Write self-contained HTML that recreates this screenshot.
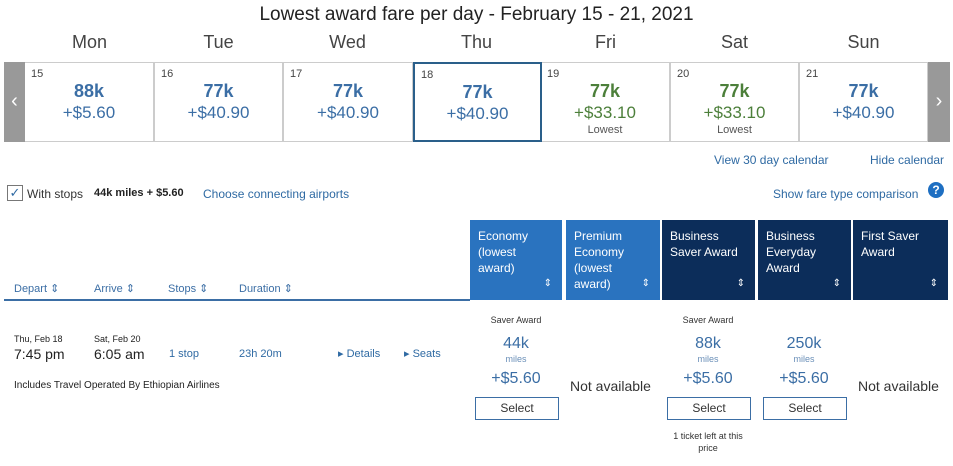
<!DOCTYPE html>
<html><head><meta charset="utf-8"><style>
body{margin:0;width:953px;height:466px;background:#fff;font-family:"Liberation Sans",sans-serif;position:relative;overflow:hidden;color:#333}
.a{position:absolute;white-space:nowrap}
.c{text-align:center}
.day{top:32px;font-size:18px;color:#444;width:129px;text-align:center}
.cell{position:absolute;top:62px;height:80px;border:1px solid #ccc;border-left:none;box-sizing:border-box;background:#fff}
.cell .n{position:absolute;left:6px;top:5px;font-size:11px;color:#444}
.cell .m{position:absolute;left:0;right:0;top:18px;text-align:center;font-size:18px;font-weight:bold;color:#3b6ea5}
.cell .p{position:absolute;left:0;right:0;top:40px;text-align:center;font-size:17px;color:#3b6ea5}
.cell.g .m,.cell.g .p{color:#4c7f3a}
.cell .l{position:absolute;left:0;right:0;top:61px;text-align:center;font-size:11px;color:#555}
.hd{position:absolute;top:220px;height:80px;color:#fff;font-size:12px;line-height:16px;padding:8px 8px;box-sizing:border-box;white-space:normal}
.hd .s{position:absolute;right:10px;bottom:8px;font-size:10px}
.lk{color:#2f6aa3}
.col{font-size:11px;color:#3b6ea5;top:282px}
.btn{position:absolute;top:397px;width:84px;height:23px;border:1px solid #3b6ea5;box-sizing:border-box;font-size:12px;text-align:center;line-height:21px;color:#333}
.mi{font-size:16px;color:#3b6ea5;width:94px;text-align:center}
.ml{font-size:9px;color:#6a8fb8;width:94px;text-align:center}
.na{font-size:14px;color:#333}
</style></head><body>
<div class="a" style="left:0;width:953px;text-align:center;top:4px;font-size:19px;color:#222">Lowest award fare per day - February 15 - 21, 2021</div>
<div class="a day" style="left:25px">Mon</div>
<div class="a day" style="left:154px">Tue</div>
<div class="a day" style="left:283px">Wed</div>
<div class="a day" style="left:412px">Thu</div>
<div class="a day" style="left:541px">Fri</div>
<div class="a day" style="left:670px">Sat</div>
<div class="a day" style="left:799px">Sun</div>
<div class="a" style="left:4px;top:62px;width:21px;height:80px;background:#999;color:#fff;font-size:20px;line-height:78px;text-align:center">‹</div>
<div class="a" style="left:928px;top:62px;width:22px;height:80px;background:#999;color:#fff;font-size:20px;line-height:78px;text-align:center">›</div>
<div class="cell" style="left:25px;width:129px"><span class="n">15</span><div class="m">88k</div><div class="p">+$5.60</div></div>
<div class="cell" style="left:154px;width:129px;border-left:1px solid #ccc"><span class="n">16</span><div class="m">77k</div><div class="p">+$40.90</div></div>
<div class="cell" style="left:283px;width:130px;border-left:1px solid #ccc"><span class="n">17</span><div class="m">77k</div><div class="p">+$40.90</div></div>
<div class="cell g" style="left:541px;width:129px"><span class="n">19</span><div class="m">77k</div><div class="p">+$33.10</div><div class="l">Lowest</div></div>
<div class="cell g" style="left:670px;width:129px;border-left:1px solid #ccc"><span class="n">20</span><div class="m">77k</div><div class="p">+$33.10</div><div class="l">Lowest</div></div>
<div class="cell" style="left:799px;width:129px;border-left:1px solid #ccc"><span class="n">21</span><div class="m">77k</div><div class="p">+$40.90</div></div>
<div class="cell" style="left:413px;width:129px;border:2px solid #2a5f8a"><span class="n">18</span><div class="m">77k</div><div class="p">+$40.90</div></div>
<div class="a lk" style="left:714px;top:153px;font-size:12px">View 30 day calendar</div>
<div class="a lk" style="left:870px;top:153px;font-size:12px">Hide calendar</div>
<div class="a" style="left:7px;top:185px;width:14px;height:14px;border:1px solid #777;font-size:13px;line-height:13px;color:#2f6aa3;text-align:center">✓</div>
<div class="a" style="left:27px;top:187px;font-size:12px">With stops</div>
<div class="a" style="left:94px;top:187px;font-size:11px;font-weight:bold;color:#222">44k miles + $5.60</div>
<div class="a lk" style="left:203px;top:187px;font-size:12px">Choose connecting airports</div>
<div class="a lk" style="left:773px;top:187px;font-size:12px">Show fare type comparison</div>
<div class="a" style="left:928px;top:182px;width:16px;height:16px;border-radius:8px;background:#1e6fc2;color:#fff;font-size:12px;font-weight:bold;text-align:center;line-height:16px">?</div>
<div class="a col" style="left:14px">Depart ⇕</div>
<div class="a col" style="left:94px">Arrive ⇕</div>
<div class="a col" style="left:168px">Stops ⇕</div>
<div class="a col" style="left:239px">Duration ⇕</div>
<div class="a" style="left:4px;top:299px;width:466px;height:2px;background:#3b6ea5"></div>
<div class="hd" style="left:470px;width:92px;background:#2a73bf;padding-right:25px">Economy (lowest award)<span class="s">⇕</span></div>
<div class="hd" style="left:566px;width:94px;background:#2a73bf;padding-right:25px">Premium Economy (lowest award)<span class="s">⇕</span></div>
<div class="hd" style="left:662px;width:93px;background:#0c2d5a">Business Saver Award<span class="s">⇕</span></div>
<div class="hd" style="left:758px;width:93px;background:#0c2d5a;padding-right:20px">Business Everyday Award<span class="s">⇕</span></div>
<div class="hd" style="left:853px;width:95px;background:#0c2d5a;padding-right:25px">First Saver Award<span class="s">⇕</span></div>
<div class="a" style="left:14px;top:334px;font-size:9px;color:#222">Thu, Feb 18</div>
<div class="a" style="left:14px;top:346px;font-size:14px;color:#222">7:45 pm</div>
<div class="a" style="left:94px;top:334px;font-size:9px;color:#222">Sat, Feb 20</div>
<div class="a" style="left:94px;top:346px;font-size:14px;color:#222">6:05 am</div>
<div class="a lk" style="left:169px;top:348px;font-size:11px">1 stop</div>
<div class="a lk" style="left:239px;top:348px;font-size:11px">23h 20m</div>
<div class="a lk" style="left:338px;top:347px;font-size:11px">▸ Details</div>
<div class="a lk" style="left:404px;top:347px;font-size:11px">▸ Seats</div>
<div class="a" style="left:14px;top:380px;font-size:10px;color:#222">Includes Travel Operated By Ethiopian Airlines</div>
<div class="a c" style="left:469px;width:94px;top:315px;font-size:9px">Saver Award</div>
<div class="a mi" style="left:469px;top:335px">44k</div>
<div class="a ml" style="left:469px;top:354px">miles</div>
<div class="a mi" style="left:469px;top:370px">+$5.60</div>
<div class="btn" style="left:475px">Select</div>
<div class="a na" style="left:570px;top:378px">Not available</div>
<div class="a c" style="left:661px;width:94px;top:315px;font-size:9px">Saver Award</div>
<div class="a mi" style="left:661px;top:335px">88k</div>
<div class="a ml" style="left:661px;top:354px">miles</div>
<div class="a mi" style="left:661px;top:370px">+$5.60</div>
<div class="btn" style="left:667px">Select</div>
<div class="a c" style="left:663px;width:90px;top:430px;font-size:9px;white-space:normal;line-height:12px">1 ticket left at this price</div>
<div class="a mi" style="left:757px;top:335px">250k</div>
<div class="a ml" style="left:757px;top:354px">miles</div>
<div class="a mi" style="left:757px;top:370px">+$5.60</div>
<div class="btn" style="left:763px">Select</div>
<div class="a na" style="left:858px;top:378px">Not available</div>
</body></html>
